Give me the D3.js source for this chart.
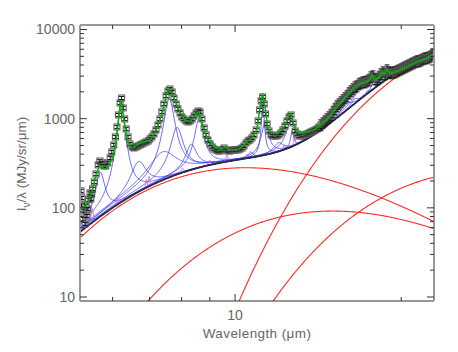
<!DOCTYPE html>
<html>
<head>
<meta charset="utf-8">
<script src="https://cdn.jsdelivr.net/npm/d3@7"></script>
<style>
  body { margin: 0; background: #fff; }
  text { font-family: "Liberation Sans", Helvetica, Arial, sans-serif; fill: #666; }
</style>
</head>
<body>
<div id="chart"></div>
<script>
// observed spectrum (open squares)
var specWave = [5.26,5.27,5.28,5.30,5.32,5.35,5.37,5.39,5.41,5.43,5.46,5.48,5.50,5.52,5.56,5.60,5.65,5.69,5.74,5.79,
  5.83,5.88,5.94,5.98,6.03,6.07,6.11,6.15,6.19,6.23,6.27,6.31,6.35,6.40,6.45,6.51,6.56,6.62,6.67,6.73,
  6.78,6.84,6.90,6.96,7.01,7.07,7.13,7.19,7.25,7.31,7.37,7.43,7.50,7.56,7.62,7.69,7.75,7.82,7.88,7.95,
  8.01,8.08,8.15,8.22,8.29,8.36,8.43,8.50,8.57,8.64,8.71,8.79,8.86,8.93,9.01,9.09,9.16,9.24,9.31,9.39,
  9.47,9.55,9.63,9.71,9.79,9.87,9.96,10.04,10.13,10.21,10.30,10.38,10.47,10.56,10.64,10.73,10.82,10.92,11.01,11.08,
  11.15,11.22,11.29,11.36,11.43,11.52,11.62,11.71,11.81,11.91,12.01,12.11,12.21,12.32,12.42,12.53,12.63,12.74,12.85,12.96,
  13.06,13.17,13.28,13.39,13.50,13.61,13.73,13.84,13.96,14.08,14.19,14.31,14.43,14.55,14.67,14.80,14.92,15.05,15.17,15.30,
  15.43,15.56,15.69,15.82,15.95,16.09,16.22,16.36,16.50,16.63,16.77,16.91,17.06,17.20,17.34,17.49,17.63,17.78,17.93,18.08,
  18.23,18.39,18.54,18.70,18.85,19.01,19.17,19.33,19.49,19.66,19.82,19.99,20.16,20.33,20.50,20.67,20.84,21.02,21.19,21.37,
  21.55,21.73,21.91,22.10,22.28,22.47,22.66,22.85];
var specFlux = [155,108,129,75,92,66,105,81,97,123,147,126,143,163,195,240,303,335,319,295,
  295,319,363,423,507,624,807,1100,1500,1706,1318,992,767,624,520,481,469,481,494,507,
  520,534,548,562,592,624,674,747,850,992,1189,1461,1797,2044,2152,1992,1706,1461,1285,1159,
  1045,992,942,918,942,992,1072,1159,1220,1189,992,787,657,577,520,481,457,446,434,434,
  446,469,446,434,434,446,446,446,446,457,469,494,534,562,577,608,657,747,942,1252,
  1579,1750,1461,1129,872,728,657,640,640,640,657,692,747,828,942,1045,1100,895,728,674,
  640,640,657,657,674,692,710,728,747,767,807,850,895,942,992,1045,1100,1189,1285,1388,
  1461,1539,1620,1706,1797,1941,2044,2152,2267,2326,2449,2513,2579,2579,2646,2715,2935,3011,2786,2786,
  2935,3170,3338,3170,3515,3338,3252,3338,3338,3425,3515,3607,3702,3798,3898,4000,4104,4211,4321,4434,
  4434,4551,4670,4793,4793,4918,5047,5314];
// fractional error bars: short-wavelength module, long-wavelength module
var errSplitWave = 14.2;
var errFrac = [0.04, 0.14];

// total fit (green)
var fitWave = [5.24,5.41,5.50,5.57,5.65,5.69,5.76,5.83,5.91,5.98,6.06,6.12,6.17,6.21,6.24,6.29,6.36,6.45,6.53,6.62,
  6.73,6.86,7.01,7.10,7.20,7.31,7.41,7.52,7.59,7.67,7.78,7.94,8.10,8.29,8.43,8.52,8.60,8.66,8.75,8.92,
  9.20,9.44,9.52,9.63,9.71,9.91,10.14,10.35,10.50,10.72,10.95,11.10,11.21,11.33,11.47,11.66,11.97,12.28,12.49,12.63,
  12.76,12.94,13.21,13.58,13.96,14.26,14.86,15.27,15.69,16.16,16.50,16.84,17.33,17.56,17.73,17.89,18.31,18.46,18.63,18.79,
  19.09,19.63,20.44,21.33,22.24,22.93];
var fitFlux = [92,114,147,205,273,295,280,273,303,353,469,747,1189,1620,1318,967,631,479,469,507,
  534,552,577,640,747,967,1252,1920,2190,2010,1620,1198,967,925,1045,1150,1198,1045,814,595,
  475,455,469,494,455,452,455,494,552,601,747,1362,1925,1362,780,686,686,814,1055,1150,
  887,714,686,714,759,853,1055,1362,1622,2004,2280,2480,2600,2760,3090,2720,2960,3360,3090,3570,
  3220,3360,3830,4350,4730,5410];

// dust continuum (red): temperature in K, value read at a reference wavelength
var dustTemp = [230, 160, 83, 70];
var dustRefWave = [10, 15, 20, 20];
var dustRefFlux = [280, 92, 166, 3200];
// stellar continuum (falls below the plotted range, only adds to the total)
var starTemp = 5000, starRefWave = 5.24, starRefFlux = 7;

// dust features (blue, Drude): centre (um), fractional width, peak above continuum
var featWave = [5.27,5.70,6.22,6.69,7.42,7.60,7.85,8.33,8.61,10.68,11.23,11.33,11.99,12.62,12.69,13.48,14.04,14.19,15.90,16.45,17.04,17.375,17.75,18.50];
var featFrac = [0.034,0.040,0.030,0.070,0.126,0.044,0.053,0.050,0.039,0.020,0.012,0.032,0.045,0.042,0.013,0.040,0.016,0.025,0.050,0.030,0.065,0.012,0.016,0.020];
var featPeak = [40,170,1450,180,220,1450,560,250,720,60,1100,500,110,450,250,40,30,40,250,200,700,150,350,450];

// emission lines (purple, gaussian): centre (um), fwhm (um), peak above continuum
var lineWave = [5.511,6.109,6.909,6.985,8.026,8.991,9.665,10.511,12.278,12.813,15.555,17.035,18.79];
var lineFwhm = [0.053,0.053,0.053,0.053,0.1,0.1,0.1,0.1,0.1,0.1,0.14,0.14,0.14];
var linePeak = [30,20,40,50,30,40,60,40,60,120,80,100,350];

var xTickVals = [6, 7, 8, 9, 10, 20];
var xTickLabels = ["", "", "", "", "10", ""];
var yMajor = [10, 100, 1000, 10000];
var yMinor = [20,30,40,50,60,70,80,90,200,300,400,500,600,700,800,900,2000,3000,4000,5000,6000,7000,8000,9000];

var svgWidth = 458, svgHeight = 352;
var plotLeft = 80, plotRight = 434, plotTop = 25, plotBottom = 301;

var svg = d3.select("#chart").append("svg")
  .attr("width", svgWidth)
  .attr("height", svgHeight);

var x = d3.scaleLog().domain([5.237, 22.93]).range([plotLeft, plotRight]);
var y = d3.scaleLog().domain([9.02, 11230]).range([plotBottom, plotTop]);

svg.append("clipPath").attr("id", "plotclip")
  .append("rect").attr("x", plotLeft).attr("y", plotTop)
  .attr("width", plotRight - plotLeft).attr("height", plotBottom - plotTop);

// model pieces
function bbShape(w, t, p) {
  return Math.pow(w, -p) / (Math.exp(14388 / (w * t)) - 1);
}
function dust(i, w) {
  return dustRefFlux[i] * bbShape(w, dustTemp[i], 6) / bbShape(dustRefWave[i], dustTemp[i], 6);
}
function star(w) {
  return starRefFlux * bbShape(w, starTemp, 4) / bbShape(starRefWave, starTemp, 4);
}
function continuum(w) {
  var s = star(w);
  for (var i = 0; i < dustTemp.length; i++) s += dust(i, w);
  return s;
}
function drude(j, w) {
  var g = featFrac[j], r = w / featWave[j] - featWave[j] / w;
  return featPeak[j] * g * g / (r * r + g * g);
}
function gauss(j, w) {
  var d = w - lineWave[j];
  return linePeak[j] * Math.exp(-4 * Math.LN2 * d * d / (lineFwhm[j] * lineFwhm[j]));
}

var grid = d3.range(0, 501).map(function (i) {
  return 5.237 * Math.pow(22.93 / 5.237, i / 500);
});

var line = d3.line()
  .x(function (d) { return x(d[0]); })
  .y(function (d) { return y(d[1]); });

var plot = svg.append("g").attr("clip-path", "url(#plotclip)");

// red continuum components
dustTemp.forEach(function (t, i) {
  plot.append("path")
    .datum(grid.map(function (w) { return [w, dust(i, w)]; }).filter(function (d) { return d[1] > 1; }))
    .attr("d", line)
    .attr("fill", "none")
    .attr("stroke", "#ff2a2a")
    .attr("stroke-width", 1.1);
});
plot.append("path")
  .datum(grid.map(function (w) { return [w, star(w)]; }))
  .attr("d", line)
  .attr("fill", "none")
  .attr("stroke", "#ff2a2a")
  .attr("stroke-width", 1.1);

// blue features on top of continuum
featWave.forEach(function (c, j) {
  var pts = grid.filter(function (w) { return Math.abs(w / c - c / w) < 0.9; });
  plot.append("path")
    .datum(pts.map(function (w) { return [w, continuum(w) + drude(j, w)]; }))
    .attr("d", line)
    .attr("fill", "none")
    .attr("stroke", "#3c3cff")
    .attr("stroke-opacity", 0.75)
    .attr("stroke-width", 1);
});

// purple lines
lineWave.forEach(function (c, j) {
  var pts = d3.range(-30, 31).map(function (k) { return c + k * lineFwhm[j] / 20; });
  plot.append("path")
    .datum(pts.map(function (w) { return [w, continuum(w) + gauss(j, w)]; }))
    .attr("d", line)
    .attr("fill", "none")
    .attr("stroke", "#c070f0")
    .attr("stroke-width", 1);
});

// total continuum
plot.append("path")
  .datum(grid.map(function (w) { return [w, continuum(w)]; }))
  .attr("d", line)
  .attr("fill", "none")
  .attr("stroke", "#2a2a3a")
  .attr("stroke-width", 1.8);

// observed points with error bars
var obs = specWave.map(function (w, i) {
  var e = w < errSplitWave ? errFrac[0] : errFrac[1];
  return { w: w, f: specFlux[i], lo: specFlux[i] * (1 - e), hi: specFlux[i] * (1 + e) };
});
var pts = plot.selectAll("g.pt").data(obs).enter().append("g").attr("class", "pt");
pts.append("rect")
  .attr("x", function (d) { return x(d.w) - 3; })
  .attr("y", function (d) { return y(d.f) - 3; })
  .attr("width", 6)
  .attr("height", 6)
  .attr("fill", "none")
  .attr("stroke", "#555")
  .attr("stroke-width", 1);
pts.append("path")
  .attr("d", function (d) {
    var cx = x(d.w), y0 = y(d.lo), y1 = y(d.hi);
    return "M" + cx + "," + y0 + "V" + y1 +
      "M" + (cx - 2.5) + "," + y0 + "H" + (cx + 2.5) +
      "M" + (cx - 2.5) + "," + y1 + "H" + (cx + 2.5);
  })
  .attr("fill", "none")
  .attr("stroke", "#111")
  .attr("stroke-width", 1);

// green fit
plot.append("path")
  .datum(fitWave.map(function (w, i) { return [w, fitFlux[i]]; }))
  .attr("d", line)
  .attr("fill", "none")
  .attr("stroke", "#00b400")
  .attr("stroke-width", 1.5);

// frame
svg.append("line").attr("x1", plotLeft).attr("x2", plotRight).attr("y1", plotTop).attr("y2", plotTop)
  .attr("stroke", "#333").attr("stroke-width", 1);
svg.append("line").attr("x1", plotLeft).attr("x2", plotRight).attr("y1", plotBottom).attr("y2", plotBottom)
  .attr("stroke", "#333").attr("stroke-width", 1.2);
svg.append("line").attr("x1", plotLeft).attr("x2", plotLeft).attr("y1", plotTop).attr("y2", plotBottom)
  .attr("stroke", "#999").attr("stroke-width", 2);
svg.append("line").attr("x1", plotRight).attr("x2", plotRight).attr("y1", plotTop).attr("y2", plotBottom)
  .attr("stroke", "#999").attr("stroke-width", 2);

// y ticks, both sides
var ticks = svg.append("g").attr("stroke", "#333").attr("stroke-width", 1);
yMajor.forEach(function (v) {
  ticks.append("line").attr("x1", plotLeft).attr("x2", plotLeft + 7).attr("y1", y(v)).attr("y2", y(v));
  ticks.append("line").attr("x1", plotRight).attr("x2", plotRight - 7).attr("y1", y(v)).attr("y2", y(v));
});
yMinor.forEach(function (v) {
  ticks.append("line").attr("x1", plotLeft).attr("x2", plotLeft + 4).attr("y1", y(v)).attr("y2", y(v));
  ticks.append("line").attr("x1", plotRight).attr("x2", plotRight - 4).attr("y1", y(v)).attr("y2", y(v));
});
xTickVals.forEach(function (v, i) {
  var len = xTickLabels[i] ? 7 : 4;
  ticks.append("line").attr("x1", x(v)).attr("x2", x(v)).attr("y1", plotBottom).attr("y2", plotBottom - len);
  ticks.append("line").attr("x1", x(v)).attr("x2", x(v)).attr("y1", plotTop).attr("y2", plotTop + len);
});

// tick labels
yMajor.forEach(function (v) {
  svg.append("text")
    .attr("x", plotLeft - 5)
    .attr("y", y(v) + 5)
    .attr("text-anchor", "end")
    .style("font-size", "14px")
    .text(v);
});
xTickVals.forEach(function (v, i) {
  if (!xTickLabels[i]) return;
  svg.append("text")
    .attr("x", x(v))
    .attr("y", 320)
    .attr("text-anchor", "middle")
    .style("font-size", "14px")
    .text(xTickLabels[i]);
});

// axis titles
svg.append("text")
  .attr("x", 257)
  .attr("y", 338)
  .attr("text-anchor", "middle")
  .style("font-size", "13.5px")
  .style("letter-spacing", "0.4px")
  .text("Wavelength (\u03bcm)");

var yt = svg.append("text")
  .attr("transform", "translate(26,164) rotate(-90)")
  .attr("text-anchor", "middle")
  .style("font-size", "13.5px");
yt.append("tspan").text("I");
yt.append("tspan").attr("dy", 4).style("font-size", "10px").text("\u03bd");
yt.append("tspan").attr("dy", -4).text("/\u03bb (MJy/sr/\u03bcm)");
</script>
</body>
</html>
